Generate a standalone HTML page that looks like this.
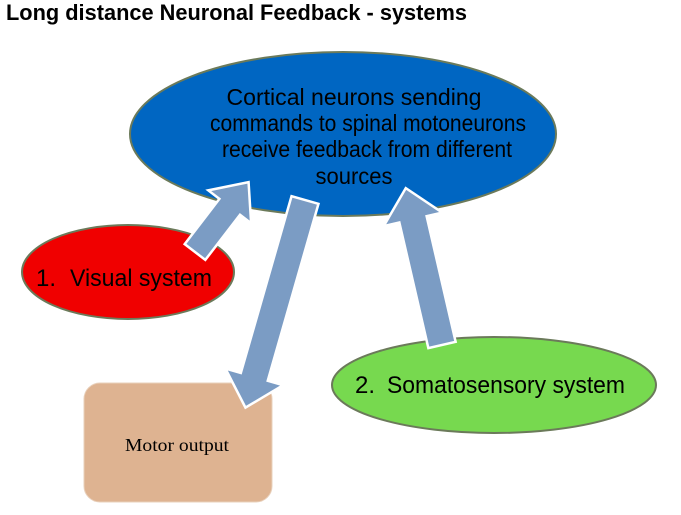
<!DOCTYPE html>
<html><head><style>
body{margin:0;width:681px;height:510px;background:#fff;overflow:hidden;font-family:"Liberation Sans",sans-serif}
</style></head><body>
<svg width="681" height="510" xmlns="http://www.w3.org/2000/svg">
<text x="6" y="20" font-family="Liberation Sans" font-weight="bold" font-size="22" textLength="461" lengthAdjust="spacingAndGlyphs" fill="#000">Long distance Neuronal Feedback - systems</text>
<ellipse cx="343" cy="134" rx="213" ry="82" fill="#0066c2" stroke="#6b7a5a" stroke-width="2"/>
<g font-family="Liberation Sans" font-size="23" fill="#000" text-anchor="middle">
<text x="354" y="105" textLength="255" lengthAdjust="spacingAndGlyphs">Cortical neurons sending</text>
<text x="368" y="131" textLength="316" lengthAdjust="spacingAndGlyphs">commands to spinal motoneurons</text>
<text x="367" y="157" textLength="290" lengthAdjust="spacingAndGlyphs">receive feedback from different</text>
<text x="354" y="184" textLength="77" lengthAdjust="spacingAndGlyphs">sources</text>
</g>
<ellipse cx="128" cy="272" rx="106" ry="47" fill="#f00000" stroke="#6b7a5a" stroke-width="2"/>
<text x="36" y="286" font-family="Liberation Sans" font-size="24" fill="#000">1.</text>
<text x="70" y="286" font-family="Liberation Sans" font-size="24" fill="#000" textLength="142" lengthAdjust="spacingAndGlyphs">Visual system</text>
<ellipse cx="494" cy="385" rx="162" ry="48" fill="#77d94f" stroke="#6b7a5a" stroke-width="2"/>
<text x="355" y="393" font-family="Liberation Sans" font-size="24" fill="#000">2.</text>
<text x="387" y="393" font-family="Liberation Sans" font-size="24" fill="#000" textLength="238" lengthAdjust="spacingAndGlyphs">Somatosensory system</text>
<rect x="84" y="383" width="188" height="119" rx="16" fill="#deb391" stroke="#e8d0bb" stroke-width="1"/>
<text x="177" y="451" font-family="Liberation Serif" font-size="18" fill="#000" text-anchor="middle" textLength="104" lengthAdjust="spacingAndGlyphs">Motor output</text>
<g fill="#7b9cc4" stroke="#fff" stroke-width="2.5" stroke-linejoin="miter">
<polygon transform="translate(195,252) rotate(-52.5)" points="0,-13 57,-13 57,-27 88,0 57,27 57,13 0,13"/>
<polygon transform="translate(305,200) rotate(106)" points="0,-14 184,-14 184,-30 216,0 184,30 184,14 0,14"/>
<polygon transform="translate(442,345) rotate(-103)" points="0,-14 129,-14 129,-30 161,0 129,30 129,14 0,14"/>
</g>
</svg>
</body></html>
